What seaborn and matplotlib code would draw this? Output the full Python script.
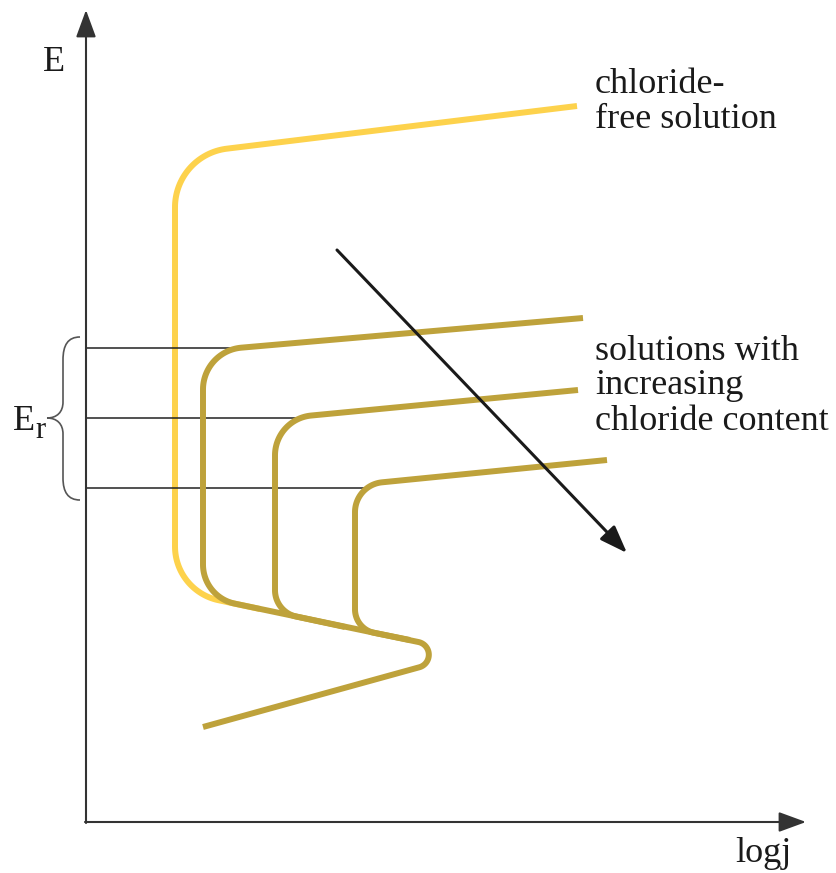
import numpy as np
import pandas as pd
import matplotlib
matplotlib.use("Agg")
import matplotlib.pyplot as plt
from matplotlib.path import Path
from matplotlib.patches import PathPatch
import seaborn as sns

# ---- schematic data (corner points in image-pixel coordinates, y downward) ----
free_pts = [(260, 609), (175, 591), (175, 155), (577, 106)]
free_r = [55, 59]
main_pts = [(203, 727), (471, 653), (203, 597), (203, 351), (583, 318)]
main_r = [13, 40, 42]
mid_pts = [(345, 627), (275, 612), (275, 419), (578, 390)]
mid_r = [27, 40]
high_pts = [(410, 640), (355, 629), (355, 485), (607, 460)]
high_r = [24, 30]
er_levels = [348, 418, 488]
er_line_ends = [240, 305, 370]
trend_start = (337, 250)
trend_end = (627, 553)

YELLOW = "#FDD24C"
GOLD = "#BEA23B"
INK = "#222222"
SERIF = ["Liberation Serif", "DejaVu Serif"]


def fillet(pts, radii, n=40):
    pts = np.asarray(pts, float)
    out = [pts[0]]
    for i in range(1, len(pts) - 1):
        P = pts[i]
        r = radii[i - 1]
        u1 = pts[i - 1] - P
        u1 /= np.linalg.norm(u1)
        u2 = pts[i + 1] - P
        u2 /= np.linalg.norm(u2)
        th = np.arccos(np.clip(np.dot(u1, u2), -1, 1))
        d = r / np.tan(th / 2)
        T1 = P + u1 * d
        T2 = P + u2 * d
        b = u1 + u2
        b /= np.linalg.norm(b)
        C = P + b * r / np.sin(th / 2)
        a1 = np.arctan2(*(T1 - C)[::-1])
        a2 = np.arctan2(*(T2 - C)[::-1])
        da = (a2 - a1 + np.pi) % (2 * np.pi) - np.pi
        ang = a1 + da * np.linspace(0, 1, n)
        out.extend(np.c_[C[0] + r * np.cos(ang), C[1] + r * np.sin(ang)])
    out.append(pts[-1])
    return np.array(out)


sns.set_theme(style="white")
fig = plt.figure(figsize=(8.37, 8.73), dpi=100)
ax = fig.add_axes([0, 0, 1, 1])
ax.set_xlim(0, 837)
ax.set_ylim(873, 0)
ax.axis("off")

lw = 4.3


def draw(pts, radii, color):
    p = fillet(pts, radii)
    df = pd.DataFrame({"x": p[:, 0], "y": p[:, 1]})
    sns.lineplot(data=df, x="x", y="y", sort=False, estimator=None, ax=ax,
                 color=color, lw=lw, solid_capstyle="butt", solid_joinstyle="round")


draw(free_pts, free_r, YELLOW)

# reference lines for E_r
for yv, xe in zip(er_levels, er_line_ends):
    sns.lineplot(x=[86, xe], y=[yv, yv], sort=False, estimator=None, ax=ax,
                 color=INK, lw=1.1)

draw(main_pts, main_r, GOLD)
draw(mid_pts, mid_r, GOLD)
draw(high_pts, high_r, GOLD)

# axes arrows
astyle = "-|>,head_length=0.6,head_width=0.22"
ax.annotate("", xy=(86, 10), xytext=(86, 823),
            arrowprops=dict(arrowstyle=astyle, mutation_scale=28, color="#333333",
                            lw=1.5, shrinkA=0, shrinkB=0))
ax.annotate("", xy=(806, 822), xytext=(85, 822),
            arrowprops=dict(arrowstyle=astyle, mutation_scale=28, color="#333333",
                            lw=1.5, shrinkA=0, shrinkB=0))
# trend arrow
ax.annotate("", xy=trend_end, xytext=trend_start,
            arrowprops=dict(arrowstyle=astyle, mutation_scale=28, color="#1a1a1a",
                            lw=2.2, shrinkA=0, shrinkB=0))

# brace
verts = [(80, 337), (68, 337), (63, 345), (63, 360),
         (63, 402),
         (63, 412), (57, 418), (47, 418),
         (57, 418), (63, 424), (63, 434),
         (63, 478),
         (63, 492), (68, 500), (80, 500)]
codes = [Path.MOVETO, Path.CURVE4, Path.CURVE4, Path.CURVE4,
         Path.LINETO,
         Path.CURVE4, Path.CURVE4, Path.CURVE4,
         Path.CURVE4, Path.CURVE4, Path.CURVE4,
         Path.LINETO,
         Path.CURVE4, Path.CURVE4, Path.CURVE4]
ax.add_patch(PathPatch(Path(verts, codes), fill=False, ec="#555555", lw=1.2))

# texts
fs = 26
def txt(x, y, s, size=fs):
    ax.text(x, y, s, ha="left", va="baseline", fontsize=size, family=SERIF, color="#1a1a1a")

txt(43, 71, "E")
txt(735, 862, "logj")
txt(13, 430, "E")
txt(35, 438, "r", size=22)
txt(595, 93, "chloride-")
txt(595, 128, "free solution")
txt(595, 360, "solutions with")
txt(595, 394, "increasing")
txt(595, 430, "chloride content")

fig.savefig("out.png", dpi=100)
